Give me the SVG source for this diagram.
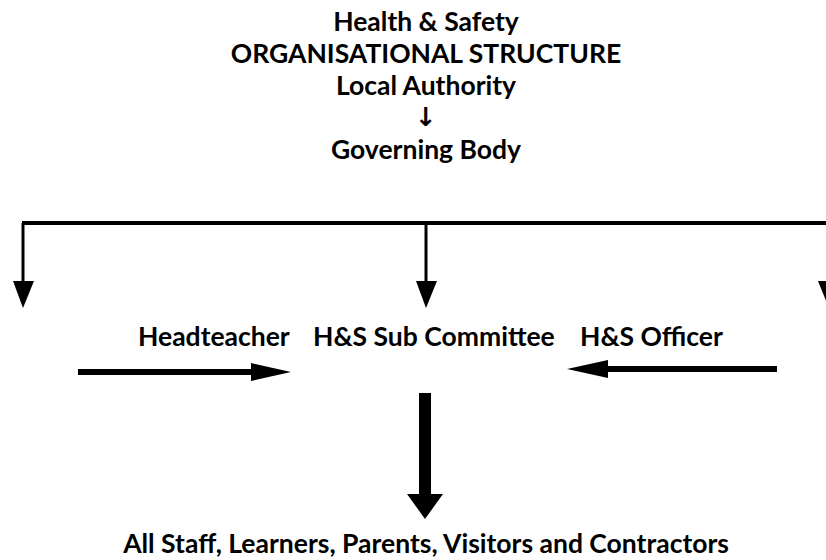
<svg xmlns="http://www.w3.org/2000/svg" width="826" height="560" viewBox="0 0 826 560">
<style>
text{font-family:Lato,"Open Sans","Liberation Sans",sans-serif;font-weight:bold;font-size:26.5px;fill:#000}
.c{text-anchor:middle}
.ln{stroke:#000;fill:none}
</style>
<rect width="826" height="560" fill="#fff"/>
<g id="title">
<text class="c" x="426" y="31">Health &amp; Safety</text>
<text class="c" x="426" y="63">ORGANISATIONAL STRUCTURE</text>
</g>
<g id="local-authority"><text class="c" x="426" y="95">Local Authority</text></g>
<g id="down-symbol"><text class="c" x="426" y="126" style="font-family:'DejaVu Sans',sans-serif;font-size:26px">↓</text></g>
<g id="governing-body"><text class="c" x="426" y="159">Governing Body</text></g>
<g id="headteacher"><text x="138" y="346">Headteacher</text></g>
<g id="subcommittee"><text x="313" y="346">H&amp;S Sub Committee</text></g>
<g id="officer"><text x="580" y="346">H&amp;S Officer</text></g>
<g id="all"><text class="c" x="426" y="553">All Staff, Learners, Parents, Visitors and Contractors</text></g>
<g id="connectors">
<path class="ln" stroke-width="4" d="M22 223H826"/>
<path class="ln" stroke-width="3" d="M23 223V284"/>
<path class="ln" stroke-width="3" d="M426 223V284"/>
<polygon points="13,281 34,281 23,308"/>
<polygon points="416,281 437,281 426,308"/>
<polygon points="818,281 840,281 829,308"/>
<path class="ln" stroke-width="6" d="M78 372H256"/>
<polygon points="251,363 291,372 251,381"/>
<path class="ln" stroke-width="6" d="M605 369H777"/>
<polygon points="608,360 567,369 608,378"/>
<path class="ln" stroke-width="12" d="M425 393V496"/>
<polygon points="407,494 443,494 425,519"/>
</g>
</svg>
